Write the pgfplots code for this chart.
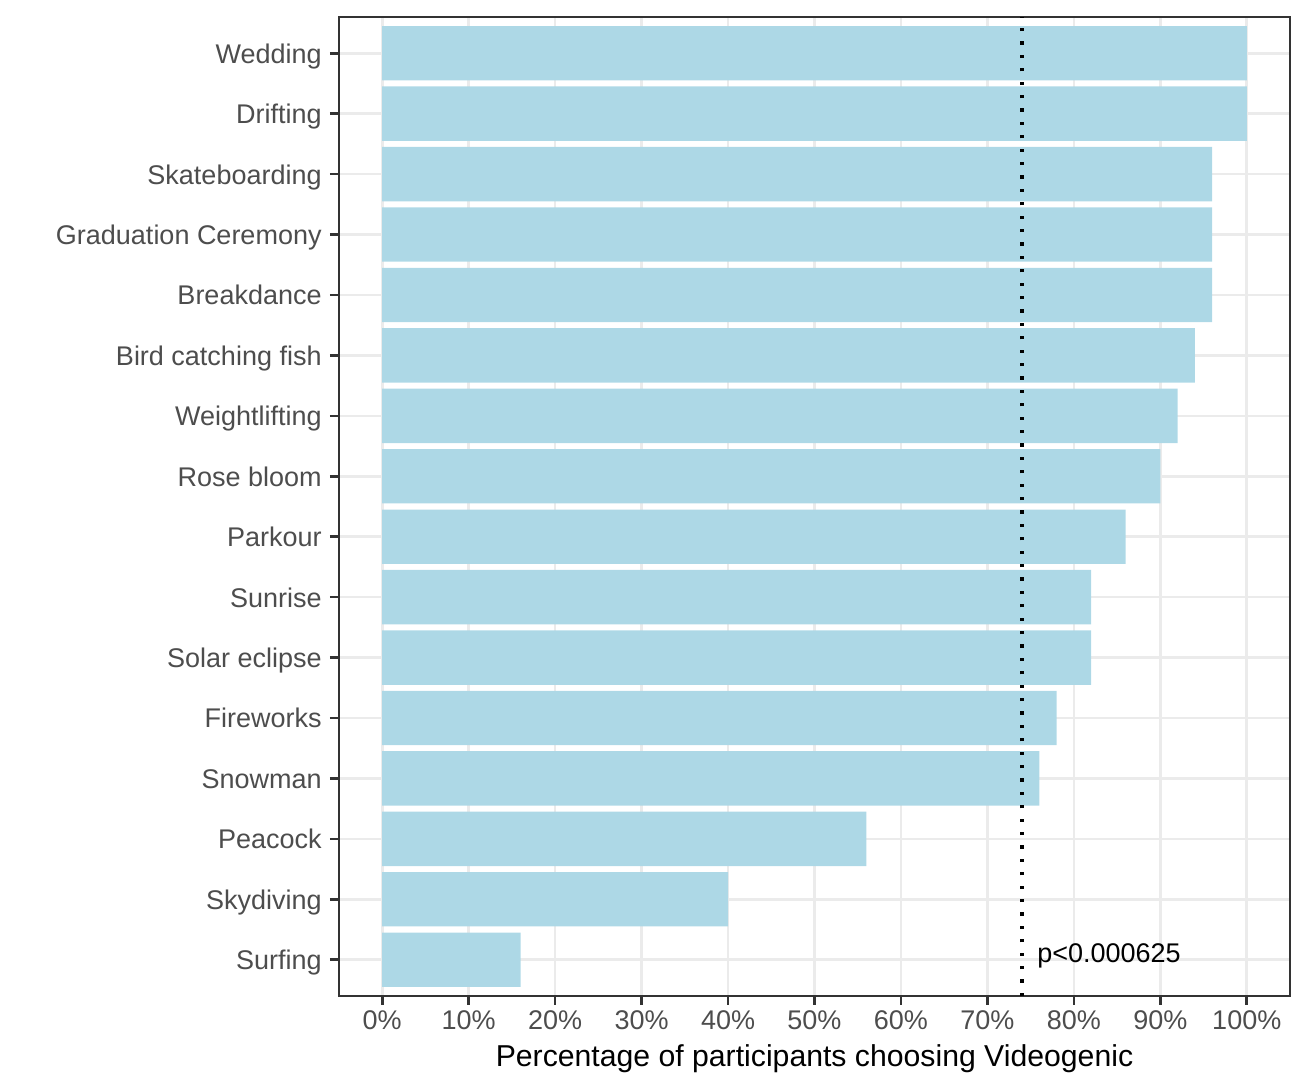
\documentclass[border=0pt]{standalone}
\usepackage{pgfplots}
\pgfplotsset{compat=1.18}
\usepackage{fontspec}
\setmainfont{Liberation Sans}
\definecolor{barblue}{HTML}{ADD8E6}
\definecolor{gridgray}{HTML}{EBEBEB}
\definecolor{framegray}{HTML}{333333}
\definecolor{labelgray}{HTML}{4D4D4D}
\begin{document}
\begin{tikzpicture}
\begin{axis}[
    name=a,
    scale only axis,
    width=475.5pt, height=489.5pt,
    xbar, bar width=0.9,
    xmin=-5, xmax=105,
    ymin=0.4, ymax=16.6,
    xtick={0,10,...,100},
    xticklabels={0\%,10\%,20\%,30\%,40\%,50\%,60\%,70\%,80\%,90\%,100\%},
    ytick={1,...,16},
    yticklabels={Surfing,Skydiving,Peacock,Snowman,Fireworks,Solar eclipse,Sunrise,Parkour,Rose bloom,Weightlifting,Bird catching fish,Breakdance,Graduation Ceremony,Skateboarding,Drifting,Wedding},
    tick align=outside, xtick pos=lower, ytick pos=left,
    major tick length=4.5pt,
    tick style={color=framegray, line width=1.3pt},
    axis line style={color=framegray, line width=1pt},
    grid=major,
    major grid style={color=gridgray, line width=1.3pt},
    xticklabel style={font=\fontsize{13.5}{16}\selectfont, text=labelgray, inner sep=0pt, anchor=base, yshift=-12.5pt},
    yticklabel style={font=\fontsize{13.5}{16}\selectfont, text=labelgray, inner sep=0pt, anchor=base east, xshift=-4pt, yshift=-5pt},
    xlabel={Percentage of participants choosing Videogenic},
    xlabel style={font=\fontsize{15.1}{18}\selectfont, at={(rel axis cs:0.5,0)}, anchor=base, inner sep=0pt, yshift=-35.3pt},
]
\addplot[fill=barblue, draw=none] table[x=val, y=pos] {
pos val
1 16
2 40
3 56
4 76
5 78
6 82
7 82
8 86
9 90
10 92
11 94
12 96
13 96
14 96
15 100
16 100
};
\draw[black, line width=1.6pt, dash pattern=on 1.6pt off 5.1pt] (axis cs:74,0.4) -- (axis cs:74,16.6);
\node[anchor=base west, inner sep=0pt, font=\fontsize{13.5}{16}\selectfont, xshift=7.5pt, yshift=-1.5pt] at (axis cs:74,1) {p<0.000625};
\end{axis}
\pgfresetboundingbox
\path[use as bounding box] ([shift={(-169.5pt,-47pt)}]a.south west) rectangle ([shift={(9pt,8.5pt)}]a.north east);
\end{tikzpicture}
\end{document}
